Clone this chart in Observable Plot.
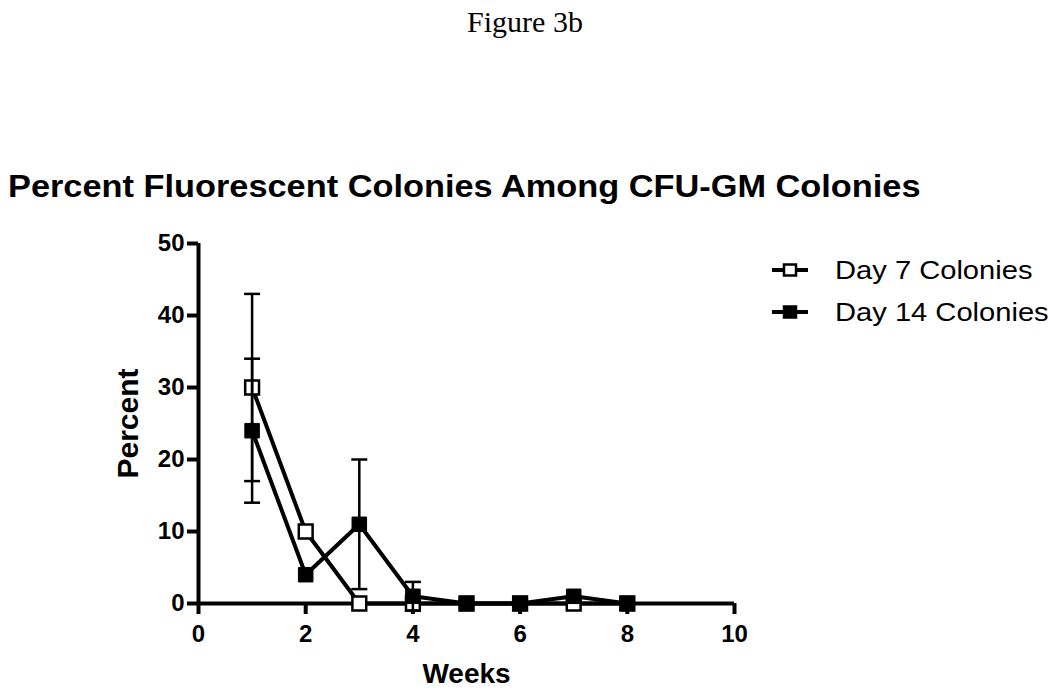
<!DOCTYPE html>
<html>
<head>
<meta charset="utf-8">
<script src="https://cdn.jsdelivr.net/npm/d3@7"></script>
<script src="https://cdn.jsdelivr.net/npm/@observablehq/plot@0.6"></script>
<style>
  html, body { margin: 0; padding: 0; background: #fff; }
  body { position: relative; width: 1050px; height: 696px; overflow: hidden; }
  #fig { position: absolute; top: 5px; left: 0; width: 1050px; text-align: center;
         font-family: "Liberation Serif", "Times New Roman", serif; font-size: 30px; color: #000; }
  #title { position: absolute; top: 168px; left: 8px; white-space: nowrap; transform: scaleX(1.073); transform-origin: left center;
           font-family: "Liberation Sans", Arial, sans-serif; font-weight: bold; font-size: 32px; color: #000; }
  #chart { position: absolute; top: 220px; left: 0; }
  #legend { position: absolute; top: 249px; left: 771px; font-family: "Liberation Sans", Arial, sans-serif;
            font-size: 26px; color: #000; }
  .row { display: flex; align-items: center; height: 42px; white-space: nowrap; }
  .row svg { margin-right: 26px; flex: none; }
  .row span { display: inline-block; transform: scaleX(1.12); transform-origin: left center; }
</style>
</head>
<body>
<div id="fig">Figure 3b</div>
<div id="title">Percent Fluorescent Colonies Among CFU-GM Colonies</div>
<div id="chart"></div>
<div id="legend"></div>
<script>
const weeks = [1, 2, 3, 4, 5, 6, 7, 8];
const day7 = [30, 10, 0, 0, 0, 0, 0, 0];
const day7Err = [13, 0, 0, 0, 0, 0, 0, 0];
const day14 = [24, 4, 11, 1, 0, 0, 1, 0];
const day14Err = [10, 0, 9, 2, 0, 0, 0, 0];
const seriesNames = ["Day 7 Colonies", "Day 14 Colonies"];
const xTicks = [0, 2, 4, 6, 8, 10];
const yTicks = [0, 10, 20, 30, 40, 50];

const rows = [];
weeks.forEach((w, i) => {
  rows.push({week: w, value: day7[i], err: day7Err[i], series: seriesNames[0]});
  rows.push({week: w, value: day14[i], err: day14Err[i], series: seriesNames[1]});
});
const errRows = rows.filter(d => d.err > 0);
const capSymbol = {
  draw(ctx, size) {
    const w = 8;
    ctx.moveTo(-w, 0); ctx.lineTo(w, 0);
  }
};
const caps = errRows.flatMap(d => [
  {week: d.week, y: d.value + d.err, series: d.series},
  {week: d.week, y: d.value - d.err, series: d.series}
]);

const fill = s => s === seriesNames[0] ? "white" : "black";

const chart = Plot.plot({
  width: 1050,
  height: 476,
  marginLeft: 198,
  marginRight: 316,
  marginTop: 23,
  marginBottom: 93,
  style: {fontFamily: "Liberation Sans, Arial, sans-serif", fontWeight: "bold", fontSize: "24px", color: "black", background: "white"},
  x: {domain: [0, 10]},
  y: {domain: [0, 50]},
  marks: [
    Plot.axisY({ticks: yTicks, tickSize: 11, tickPadding: 3, strokeWidth: 4, label: null, fontSize: 24, fontWeight: "bold"}),
    Plot.axisX({ticks: xTicks, tickSize: 11, tickPadding: 10, strokeWidth: 4, label: null, fontSize: 24, fontWeight: "bold"}),
    Plot.ruleX([0], {y1: 0, y2: 50, stroke: "black", strokeWidth: 4}),
    Plot.ruleY([0], {x1: 0, x2: 10, stroke: "black", strokeWidth: 4}),
    Plot.line(rows, {x: "week", y: "value", z: "series", stroke: "black", strokeWidth: 4}),
    Plot.dot(rows.filter(d => d.series === seriesNames[0]), {x: "week", y: "value", symbol: "square", r: 7.8, fill: "white", stroke: "black", strokeWidth: 2.5}),
    Plot.dot(rows.filter(d => d.series === seriesNames[1]), {x: "week", y: "value", symbol: "square", r: 8.2, fill: "black", stroke: "black", strokeWidth: 1}),
    Plot.ruleX(errRows, {x: "week", y1: d => d.value - d.err, y2: d => d.value + d.err, stroke: "black", strokeWidth: 2.5}),
    Plot.dot(caps, {x: "week", y: "y", symbol: capSymbol, stroke: "black", strokeWidth: 2.5}),
    Plot.text(["Percent"], {frameAnchor: "left", textAnchor: "middle", dx: -70, rotate: -90, fontSize: 30, fontWeight: "bold", fill: "black"}),
    Plot.text(["Weeks"], {frameAnchor: "bottom", dy: 79, fontSize: 28, fontWeight: "bold", fill: "black"})
  ]
});
document.getElementById("chart").appendChild(chart);

const legend = document.getElementById("legend");
seriesNames.forEach(name => {
  const row = document.createElement("div");
  row.className = "row";
  const f = fill(name);
  row.innerHTML = `<svg width="38" height="20"><line x1="1" y1="10" x2="37" y2="10" stroke="black" stroke-width="4"/>` +
    `<rect x="13" y="4.5" width="12" height="11" fill="${f}" stroke="black" stroke-width="2.5"/></svg><span>${name}</span>`;
  legend.appendChild(row);
});
</script>
</body>
</html>
